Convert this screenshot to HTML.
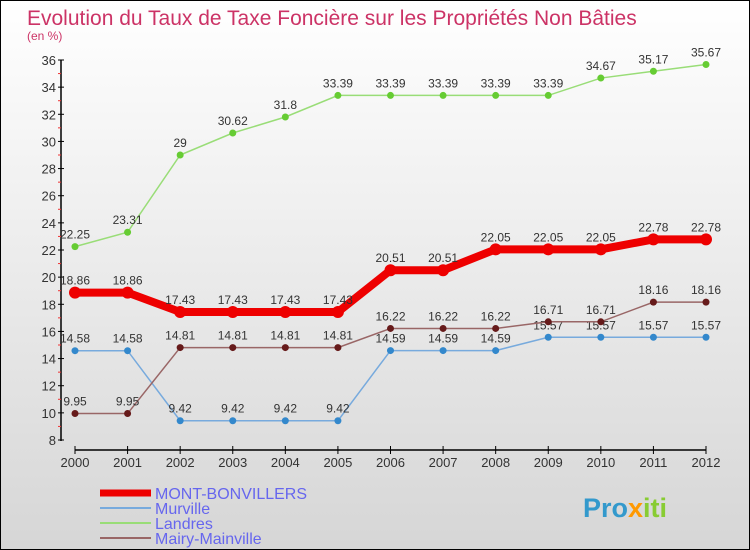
<!DOCTYPE html>
<html><head><meta charset="utf-8"><style>
body{margin:0}
#c{width:750px;height:550px;position:relative;box-sizing:border-box;border:1px solid #000;background:linear-gradient(#ffffff,#d6d6d6);font-family:"Liberation Sans",sans-serif;overflow:hidden}
</style></head><body>
<div id="c">
<svg id="s" width="750" height="550" style="position:absolute;left:-1px;top:-1px"></svg>
</div>
<script>
const years=["2000","2001","2002","2003","2004","2005","2006","2007","2008","2009","2010","2011","2012"];
const yTicks=[8,10,12,14,16,18,20,22,24,26,28,30,32,34,36];
const mont=[18.86,18.86,17.43,17.43,17.43,17.43,20.51,20.51,22.05,22.05,22.05,22.78,22.78];
const murville=[14.58,14.58,9.42,9.42,9.42,9.42,14.59,14.59,14.59,15.57,15.57,15.57,15.57];
const landres=[22.25,23.31,29,30.62,31.8,33.39,33.39,33.39,33.39,33.39,34.67,35.17,35.67];
const mairy=[9.95,9.95,14.81,14.81,14.81,14.81,16.22,16.22,16.22,16.71,16.71,18.16,18.16];
const NS="http://www.w3.org/2000/svg",s=document.getElementById('s');
const X=i=>75+i*(706-75)/12, Y=v=>440-(v-8)*380/28;
function mk(t,a,p){const e=document.createElementNS(NS,t);for(const k in a)e.setAttribute(k,a[k]);(p||s).appendChild(e);return e;}
let e=mk('text',{x:27,y:25,'font-size':21,fill:'#cc3366'});e.textContent="Evolution du Taux de Taxe Foncière sur les Propriétés Non Bâties";


e=mk('text',{x:27,y:40,'font-size':12,fill:'#cc3366'});e.textContent="(en %)";


mk('line',{x1:61,y1:60,x2:61,y2:441,stroke:'#000','stroke-width':1.5});
yTicks.forEach((v,i)=>{mk('line',{x1:58,x2:64,y1:Y(v),y2:Y(v),stroke:'#000'});
 if(i<yTicks.length-1)mk('line',{x1:58,x2:61,y1:Y(v+1),y2:Y(v+1),stroke:'#e33'});
 const t=mk('text',{x:56,y:Y(v)+5,'font-size':13,fill:'#333','text-anchor':'end'});t.textContent=v;
 
 });
mk('line',{x1:75,y1:450,x2:706,y2:450,stroke:'#000','stroke-width':1.5});
years.forEach((y,i)=>{mk('line',{x1:X(i),x2:X(i),y1:446,y2:454,stroke:'#000'});
 const t=mk('text',{x:X(i),y:467,'font-size':13,fill:'#333','text-anchor':'middle'});t.textContent=y;
 
 });
function series(d,col,dot,w,r,name){
 const p=mk('polyline',{points:d.map((v,i)=>X(i)+','+Y(v)).join(' '),fill:'none',stroke:col,'stroke-width':w});
 
 
 d.forEach((v,i)=>{const c=mk('circle',{cx:X(i),cy:Y(v),r:r,fill:dot});
  
  
  const t=mk('text',{x:X(i),y:Y(v)-8,'font-size':12,fill:'#333','text-anchor':'middle'});t.textContent=v;
  
  });
}
series(landres,'#99dd77','#66cc33',1.5,3.5,'landres');
series(murville,'#77aadd','#3388cc',1.5,3.5,'murville');
series(mairy,'#996666','#661a1a',1.5,3.5,'mairy');
series(mont,'#ee0000','#ee0000',8,6,'mont');
const leg=[["MONT-BONVILLERS","#ee0000",7],["Murville","#77aadd",2],["Landres","#99dd77",2],["Mairy-Mainville","#996666",2]];
leg.forEach((l,i)=>{const y=493+i*15;const g=mk('g',{});
 
 
 mk('line',{x1:100,x2:151,y1:y,y2:y,stroke:l[1],'stroke-width':l[2]},g);
 const t=mk('text',{x:155,y:y+6,'font-size':16,fill:'#6666ee'},g);t.textContent=l[0];});
const lg=mk('text',{x:583,y:517,'font-size':27,'font-weight':'bold'});


[["Pro","#3399cc"],["x","#ff9900"],["iti","#88cc33"]].forEach(p=>{const t=mk('tspan',{fill:p[1]},lg);t.textContent=p[0];});
</script>
</body></html>
